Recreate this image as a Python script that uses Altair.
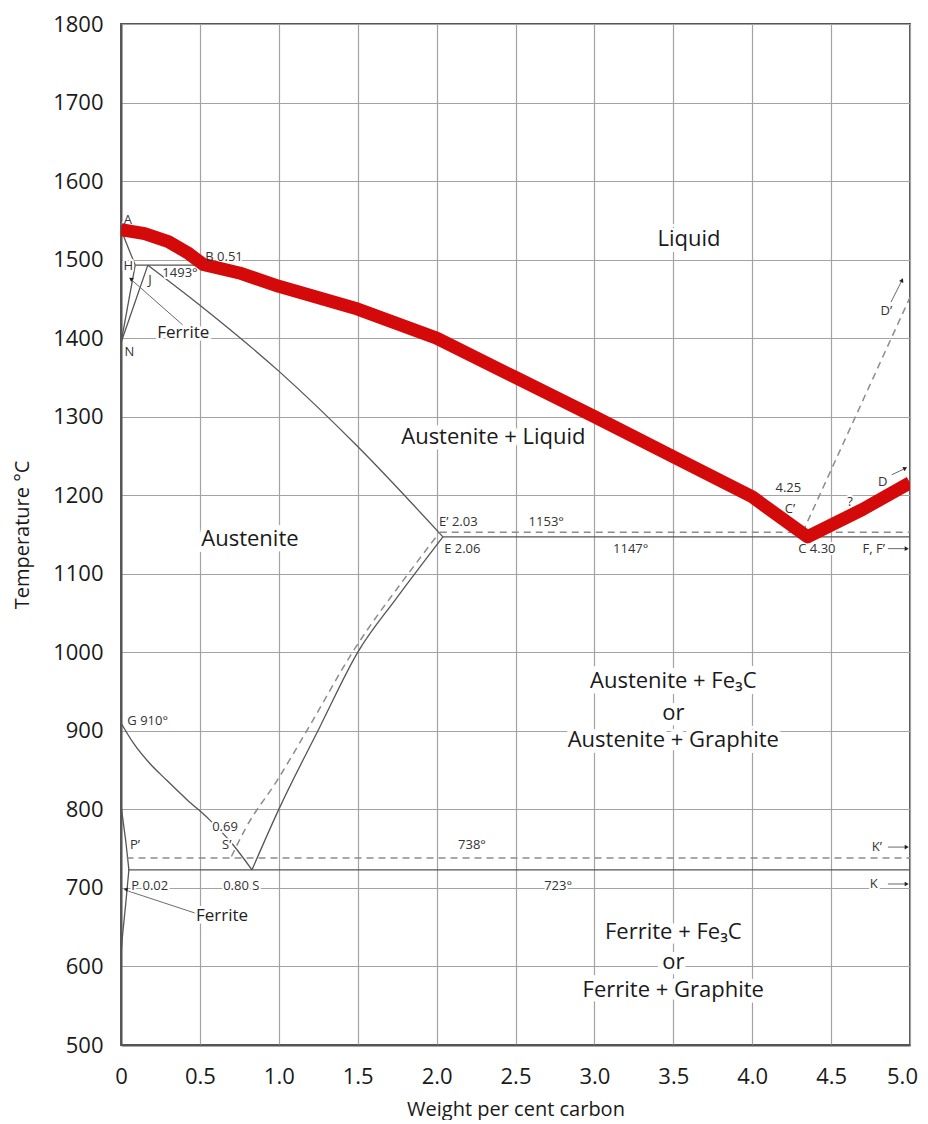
import altair as alt
import pandas as pd

# ---------------- data ----------------
x_ticks = [0, 0.5, 1.0, 1.5, 2.0, 2.5, 3.0, 3.5, 4.0, 4.5, 5.0]
y_ticks = [500, 600, 700, 800, 900, 1000, 1100, 1200, 1300, 1400, 1500, 1600, 1700, 1800]

# liquidus (thick red line)
red_x = [0, 0.15, 0.3, 0.42, 0.52, 0.75, 1.0, 1.5, 2.0, 2.5, 3.0, 3.5, 4.0, 4.35, 4.7, 5.0]
red_t = [1538, 1533, 1523, 1509, 1494, 1483, 1466, 1437, 1400, 1350, 1300, 1249, 1198, 1147, 1182, 1216]

# thin solid phase boundaries (straight pieces)
ah_x, ah_t = [0, 0.09], [1538, 1493]
hn_x, hn_t = [0.09, 0], [1493, 1394]
nj_x, nj_t = [0, 0.17], [1394, 1493]
hb_x, hb_t = [0.09, 0.51], [1493, 1493]
pq_x, pq_t = [0, 0.03, 0.05, 0.03, 0.01, 0], [805, 760, 723, 680, 640, 615]
ef_x, ef_t = [2.04, 5.0], [1147, 1147]
pk_x, pk_t = [0.045, 5.0], [723, 723]

# thin solid phase boundaries (curved pieces)
je_x, je_t = [0.17, 0.5, 1.0, 1.5, 2.04], [1493, 1442, 1358, 1262, 1147]
es_x, es_t = [0.83, 1.0, 1.26, 1.5, 1.75, 2.04], [723, 800, 905, 1000, 1070, 1147]
gs_x, gs_t = [0, 0.08, 0.18, 0.29, 0.42, 0.56, 0.71, 0.83], [910, 884, 859, 837, 812, 787, 755, 723]

# dashed (graphite system) lines
es2_x, es2_t = [0.70, 0.79, 0.99, 1.18, 1.47, 1.82, 2.02], [740, 776, 837, 901, 1001, 1100, 1153]
ef2_x, ef2_t = [2.02, 5.0], [1153, 1153]
pk2_x, pk2_t = [0.035, 5.0], [738, 738]
cd2_x, cd2_t = [4.32, 5.0], [1153, 1452]

# leader lines and arrows
lead_x = [0.068, 0.046, 4.86, 4.86, 4.86, 4.88, 4.884]
lead_t = [1474, 696, 752, 705, 1132, 1446, 1226]
lead_x2 = [0.39, 0.469, 4.98, 4.98, 4.98, 4.95, 4.968]
lead_t2 = [1417, 668, 752, 705, 1132, 1474, 1234]
head_x = [0.066, 0.034, 4.975, 4.975, 4.975, 4.948, 4.966]
head_t = [1475, 698, 752, 705, 1132, 1473, 1234]
head_ang = [305, 280, 90, 90, 90, 25, 63]

# region labels
big_text = ["Liquid", "Austenite + Liquid", "Austenite",
            "Austenite + Fe\u2083C", "or", "Austenite + Graphite",
            "Ferrite + Fe\u2083C", "or", "Ferrite + Graphite"]
big_x = [3.6, 2.36, 0.817, 3.50, 3.50, 3.50, 3.50, 3.50, 3.50]
big_t = [1526, 1274, 1144, 963, 923, 888, 644, 606, 570]

mid_text = ["Ferrite", "Ferrite"]
mid_x = [0.395, 0.64]
mid_t = [1406, 664]

small_text = ["A", "B 0.51", "H", "J", "1493\u00b0", "N", "0.69", "S\u2019", "P\u2019",
              "738\u00b0", "0.80 S", "723\u00b0", "K\u2019", "K", "E\u2019 2.03", "E 2.06",
              "1153\u00b0", "1147\u00b0", "4.25", "C\u2019", "C 4.30", "F, F\u2019", "?", "D\u2019", "D"]
small_x = [0.044, 0.653, 0.046, 0.184, 0.374, 0.053, 0.659, 0.67, 0.089,
           2.224, 0.762, 2.77, 4.79, 4.77, 2.138, 2.163,
           2.695, 3.23, 4.229, 4.24, 4.41, 4.77, 4.62, 4.85, 4.827]
small_t = [1550, 1503, 1492, 1474, 1483, 1383, 778, 755, 755,
           755, 702, 702, 752, 705, 1166, 1131,
           1166, 1131, 1209, 1183, 1132, 1132, 1192, 1434, 1217]

left_text = ["G 910\u00b0", "P 0.02"]
left_x = [0.04, 0.065]
left_t = [912, 702]

# ---------------- frames ----------------
def seg(name, xs, ts):
    return pd.DataFrame({"seg": name, "x": xs, "t": ts, "i": list(range(len(xs)))})

red_df = seg("red", red_x, red_t)
solid_df = pd.concat([
    seg("AH", ah_x, ah_t), seg("HN", hn_x, hn_t), seg("NJ", nj_x, nj_t),
    seg("HB", hb_x, hb_t), seg("PQ", pq_x, pq_t), seg("EF", ef_x, ef_t),
    seg("PK", pk_x, pk_t)], ignore_index=True)
curve_df = pd.concat([
    seg("JE", je_x, je_t), seg("ES", es_x, es_t), seg("GS", gs_x, gs_t)], ignore_index=True)
dcurve_df = seg("ES2", es2_x, es2_t)
dash_df = pd.concat([
    seg("EF2", ef2_x, ef2_t), seg("PK2", pk2_x, pk2_t), seg("CD2", cd2_x, cd2_t)], ignore_index=True)
lead_df = pd.DataFrame({"x": lead_x, "t": lead_t, "x2": lead_x2, "t2": lead_t2})
head_df = pd.DataFrame({"x": head_x, "t": head_t, "ang": head_ang})
big_df = pd.DataFrame({"x": big_x, "t": big_t, "label": big_text})
mid_df = pd.DataFrame({"x": mid_x, "t": mid_t, "label": mid_text})
small_df = pd.DataFrame({"x": small_x, "t": small_t, "label": small_text})
left_df = pd.DataFrame({"x": left_x, "t": left_t, "label": left_text})

FONT = "Open Sans"
xscale = alt.Scale(domain=[0, 5], nice=False, zero=False)
yscale = alt.Scale(domain=[500, 1800], nice=False, zero=False)
xaxis = alt.Axis(values=x_ticks, labelExpr="datum.value == 0 ? '0' : format(datum.value, '.1f')",
                 grid=True, ticks=False, tickSize=0, labelPadding=21, titlePadding=12,
                 labelFlush=False,
                 labelOffset={"condition": {"test": "datum.value == 5", "value": -8}, "value": 0},
                 title="Weight per cent carbon")
yaxis = alt.Axis(values=y_ticks, format="d", grid=True, ticks=False, tickSize=0, labelPadding=18,
                 titlePadding=20, labelFlush=False, title="Temperature \u00b0C")


def X(f="x"):
    return alt.X(f + ":Q", scale=xscale, axis=xaxis)


def Y(f="t"):
    return alt.Y(f + ":Q", scale=yscale, axis=yaxis)


LINE = "#555555"
DASH = "#8c8c8c"
solid = alt.Chart(solid_df).mark_line(color=LINE, strokeWidth=1.3, clip=True).encode(
    x=X(), y=Y(), detail="seg:N", order="i:Q")
curves = alt.Chart(curve_df).mark_line(color=LINE, strokeWidth=1.3, clip=True,
                                       interpolate="monotone").encode(
    x=X(), y=Y(), detail="seg:N")
dcurve = alt.Chart(dcurve_df).mark_line(color=DASH, strokeWidth=1.5, strokeDash=[7, 5], clip=True,
                                        interpolate="monotone").encode(x=X(), y=Y())
dashed = alt.Chart(dash_df).mark_line(color=DASH, strokeWidth=1.5, strokeDash=[7, 5], clip=True).encode(
    x=X(), y=Y(), detail="seg:N", order="i:Q")
leads = alt.Chart(lead_df).mark_rule(color="#6a6a6a", strokeWidth=1).encode(
    x=X(), y=Y(), x2="x2:Q", y2="t2:Q")
heads = alt.Chart(head_df).mark_point(shape="triangle", filled=True, color="#222222", size=22,
                                      opacity=1).encode(
    x=X(), y=Y(), angle=alt.Angle("ang:Q", scale=None))


def halo(df, size, sw, align="center"):
    return alt.Chart(df).mark_text(font=FONT, fontSize=size, align=align, baseline="middle",
                                   fill="white", stroke="white", strokeWidth=sw,
                                   strokeJoin="round").encode(x=X(), y=Y(), text="label:N")


def txt(df, size, color, align="center"):
    return alt.Chart(df).mark_text(font=FONT, fontSize=size, align=align, baseline="middle",
                                   color=color).encode(x=X(), y=Y(), text="label:N")


red = alt.Chart(red_df).mark_line(color="#d40a0a", strokeWidth=13, strokeJoin="round",
                                  strokeCap="butt", clip=True).encode(
    x=X(), y=Y(), order="i:Q")

chart = alt.layer(
    solid, curves, dcurve, dashed, leads,
    halo(big_df, 22, 12), halo(mid_df, 17, 6), halo(small_df, 13, 4), halo(left_df, 13, 4, "left"),
    red,
    txt(big_df, 22, "#1a1a1a"), txt(mid_df, 17, "#222222"),
    txt(small_df, 13, "#333333"), txt(left_df, 13, "#333333", "left"),
    heads,
).properties(
    width=789, height=1021,
    padding={"left": 113, "top": 16, "right": 10, "bottom": 75},
    autosize=alt.AutoSizeParams(type="none"),
).configure_view(
    stroke="#555555", strokeWidth=2
).configure_axis(
    gridColor="#a3a3a3", gridWidth=1.2, gridOpacity=1,
    domainColor="#555555", domainWidth=2,
    labelFont=FONT, labelFontSize=22, labelColor="#1a1a1a",
    titleFont=FONT, titleFontSize=20, titleFontWeight="normal", titleColor="#1a1a1a",
)

chart.save("out.html", embed_options={"renderer": "svg", "actions": False})
